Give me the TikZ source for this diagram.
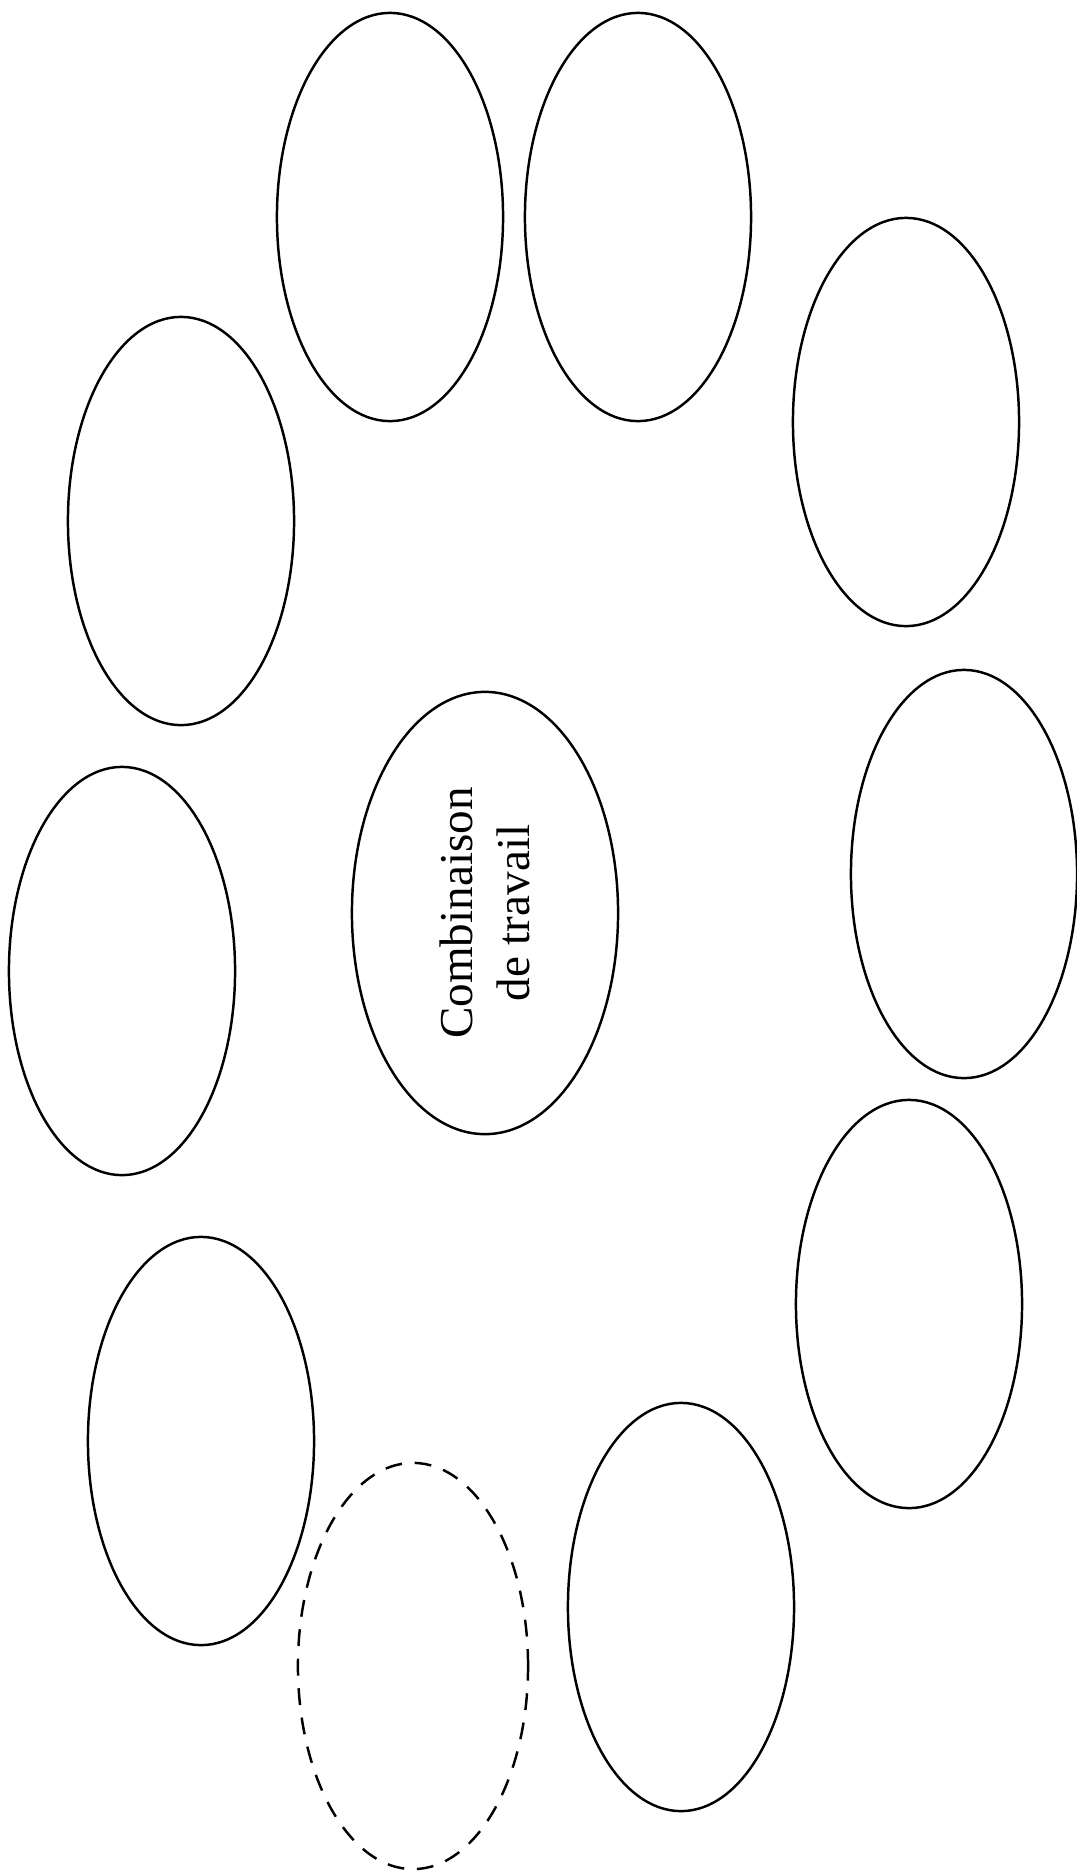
\documentclass[tikz,border=0pt]{standalone}
\usepackage{fontspec}
\setmainfont{Liberation Serif}
\usepackage{tikz}
\usetikzlibrary{shapes.geometric}

\begin{document}
\begin{tikzpicture}[
    x=0.01cm, y=-0.01cm,
    oval/.style={draw=black, ellipse, line width=0.7pt, inner sep=0pt,
                 minimum width=2.26cm, minimum height=4.08cm},
    centreoval/.style={oval, minimum width=2.66cm, minimum height=4.42cm},
    emptyoval/.style={oval, dash pattern=on 4.8pt off 3.6pt, minimum width=2.3cm, minimum height=4.06cm},
    label/.style={font=\fontsize{13.4}{16.2}\selectfont, align=center, rotate=90}
  ]
  \useasboundingbox (0,0) rectangle (1077,1872);

  % Centre
  \node[centreoval] (centre) at (485,913) {};
  \node[label] (centretext) at (centre) {Combinaison\\ de travail};

  % Ovals round the centre
  \node[oval] (topleft)   at (390,217)  {};
  \node[oval] (topright)  at (638,217)  {};
  \node[oval] (rightup)   at (906,422)  {};
  \node[oval] (leftup)    at (181,521)  {};
  \node[oval] (leftmid)   at (122,971)  {};
  \node[oval] (rightmid)  at (964,874)  {};
  \node[oval] (rightlow)  at (909,1304) {};
  \node[oval] (leftlow)   at (201,1441) {};
  \node[oval] (bottom)    at (681,1607) {};

  % Empty place
  \node[emptyoval] (free) at (413,1666) {};
\end{tikzpicture}
\end{document}
